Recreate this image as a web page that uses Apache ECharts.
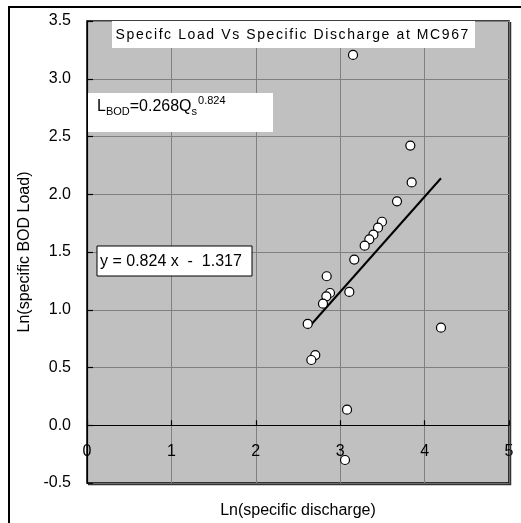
<!DOCTYPE html>
<html><head><meta charset="utf-8">
<script src="https://cdn.jsdelivr.net/npm/echarts@6/dist/echarts.min.js"></script>
<style>html,body{margin:0;padding:0;background:#fff}#c{width:521px;height:523px}</style>
</head><body><div id="c"></div>
<script>
// ---- data ----
const dischargeLn = [3.847, 3.673, 3.495, 3.448, 3.393, 3.345, 3.290, 3.167, 2.840, 2.879, 2.836,
                     2.796, 3.108, 2.615, 2.705, 2.658, 4.194, 3.081, 3.057, 3.152, 3.831];
const loadLn      = [2.102, 1.939, 1.762, 1.711, 1.650, 1.610, 1.555, 1.434, 1.290, 1.145, 1.116,
                     1.053, 1.154, 0.877, 0.608, 0.565, 0.845, 0.135, -0.301, 3.206, 2.421];
const trendSlope = 0.824;
const trendIntercept = -1.317;
const xTickMin = 0, xTickMax = 5, xTickStep = 1;
const yTickMin = -0.5, yTickMax = 3.5, yTickStep = 0.5;
const titleText = 'Specifc Load Vs Specific Discharge at MC967';
const xAxisName = 'Ln(specific discharge)';
const yAxisName = 'Ln(specific BOD Load)';
const trendEqText = 'y = 0.824 x  -  1.317';
const powerEqParts = [['L', 'main'], ['BOD', 'sub'], ['=0.268Q', 'main'], ['s', 'sub'], ['0.824', 'sup']];

// ---- build ----
const FONT = 'Liberation Sans, Arial, sans-serif';
const points = dischargeLn.map((x, i) => [x, loadLn[i]]);
const xMinData = Math.min(...dischargeLn), xMaxData = Math.max(...dischargeLn);
const trend = [xMinData, xMaxData].map(x => [x, trendSlope * x + trendIntercept]);

const measureCtx = document.createElement('canvas').getContext('2d');
function textWidth(t, size) { measureCtx.font = size + 'px ' + FONT; return measureCtx.measureText(t).width; }

const partStyle = {
  main: {size: 16, base: 112.5},
  sub:  {size: 11, base: 115.5},
  sup:  {size: 11, base: 104.5}
};
const powerEqEls = [];
let px = 97;
powerEqParts.forEach(([t, kind]) => {
  const s = partStyle[kind];
  powerEqEls.push({type: 'text', z: 101, x: px, y: s.base - 0.35 * s.size,
    style: {text: t, fontSize: s.size, fontFamily: FONT, fill: '#000', verticalAlign: 'middle', align: 'left'}});
  px += textWidth(t, s.size) + (kind === 'sub' && t === 's' ? 1 : 0);
});

const titleRich = titleText.split('').map(c => '{c|' + c + '}').join('');

const chart = echarts.init(document.getElementById('c'), null, {renderer: 'canvas'});
chart.setOption({
  animation: false,
  backgroundColor: '#fff',
  grid: {left: 87, top: 21, width: 422, height: 462, show: true, backgroundColor: '#c0c0c0',
         borderColor: '#000', borderWidth: 1.5, containLabel: false, outerBoundsMode: 'none'},
  xAxis: {
    type: 'value', min: xTickMin, max: xTickMax, interval: xTickStep,
    name: xAxisName, nameLocation: 'middle', nameGap: 20,
    nameTextStyle: {fontSize: 16, fontFamily: FONT, color: '#000'},
    axisLine: {show: true, onZero: true, lineStyle: {color: '#000', width: 1.2}},
    axisTick: {show: true, inside: true, length: 5, lineStyle: {color: '#000', width: 1.2}},
    axisLabel: {fontSize: 16, fontFamily: FONT, color: '#000', margin: -39},
    splitLine: {show: true, lineStyle: {color: '#808080', width: 1}}
  },
  yAxis: {
    type: 'value', min: yTickMin, max: yTickMax, interval: yTickStep,
    name: yAxisName, nameLocation: 'middle', nameGap: 54, nameRotate: 90,
    nameTextStyle: {fontSize: 16, fontFamily: FONT, color: '#000'},
    axisLine: {show: true, onZero: false, lineStyle: {color: '#000', width: 1.2}},
    axisTick: {show: true, inside: true, length: 6, lineStyle: {color: '#000', width: 1.2}},
    axisLabel: {fontSize: 16, fontFamily: FONT, color: '#000', margin: 16, formatter: v => v.toFixed(1)},
    splitLine: {show: true, lineStyle: {color: '#808080', width: 1}}
  },
  series: [
    {type: 'line', data: trend, symbol: 'none', z: 3,
     lineStyle: {color: '#000', width: 2}, silent: true},
    {type: 'scatter', data: points, symbol: 'circle', symbolSize: 9, z: 4,
     itemStyle: {color: '#fff', borderColor: '#000', borderWidth: 1.2, opacity: 1}}
  ],
  graphic: [
    {type: 'rect', z: 100, shape: {x: 9, y: 7, width: 700, height: 700},
     style: {fill: 'none', stroke: '#000', lineWidth: 2}},
    {type: 'polyline', z: 100, shape: {points: [[510.5, 22], [510.5, 484.5], [88, 484.5]]},
     style: {fill: 'none', stroke: '#333', lineWidth: 1.5}},
    {type: 'rect', z: 100, shape: {x: 112, y: 21, width: 363, height: 27}, style: {fill: '#fff'}},
    {type: 'text', z: 101, x: 292, y: 35,
     style: {text: titleRich, align: 'center', verticalAlign: 'middle',
             rich: {c: {fontSize: 14, fontFamily: FONT, fill: '#000', padding: [0, 0.8, 0, 0.8]}}}},
    {type: 'rect', z: 100, shape: {x: 88, y: 93, width: 185, height: 39}, style: {fill: '#fff'}},
    ...powerEqEls,
    {type: 'rect', z: 100, shape: {x: 97, y: 246, width: 155, height: 30},
     style: {fill: '#fff', stroke: '#000', lineWidth: 1}},
    {type: 'text', z: 101, x: 100, y: 261.5,
     style: {text: trendEqText, fontSize: 16, fontFamily: FONT, fill: '#000', align: 'left', verticalAlign: 'middle'}}
  ]
});
</script></body></html>
